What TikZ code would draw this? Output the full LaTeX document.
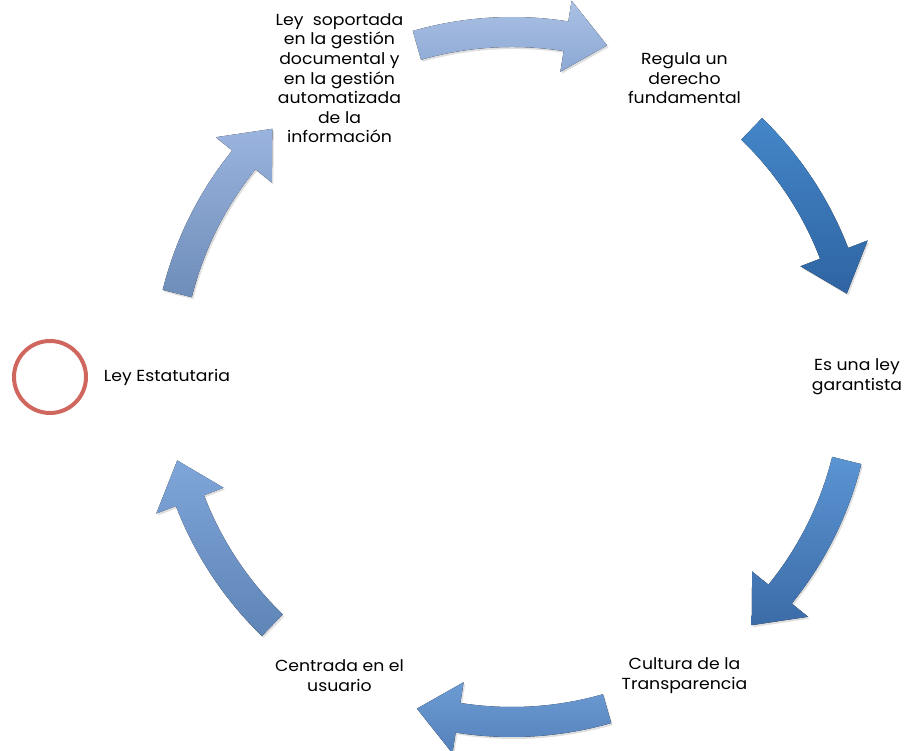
\documentclass[tikz,border=0pt]{standalone}
\usepackage{fontspec}
\setmainfont[FakeStretch=1.08]{Poppins}
\usetikzlibrary{shadows}

\definecolor{arrowTopA}{HTML}{ABC1E4}\definecolor{arrowBotA}{HTML}{8CA8D4}
\definecolor{arrowTopB}{HTML}{4486C8}\definecolor{arrowBotB}{HTML}{2F64A2}
\definecolor{arrowTopC}{HTML}{5B94D2}\definecolor{arrowBotC}{HTML}{3B6CA8}
\definecolor{arrowTopD}{HTML}{6C9BD3}\definecolor{arrowBotD}{HTML}{5581BB}
\definecolor{arrowTopE}{HTML}{7FA6D9}\definecolor{arrowBotE}{HTML}{5F84B6}
\definecolor{arrowTopF}{HTML}{9AB4DE}\definecolor{arrowBotF}{HTML}{6E8DB9}
\definecolor{circleRed}{HTML}{D0675F}

\begin{document}
\begin{tikzpicture}
[x=1pt,y=1pt,
  textDecorate/.style={align=center,inner sep=0pt,font=\fontsize{16}{19.6}\selectfont},%
  arrowDecorate/.style={drop shadow={shadow xshift=1.5pt,shadow yshift=-2pt,opacity=0.25}},%
  circleDecorate/.style={shape=circle,draw=circleRed,line width=4pt,minimum size=72pt}]
\useasboundingbox (0,0) rectangle (914,751);
%% nodes or vertices
\begin{scope}[shift={(512,374)}]
\foreach \nodename/\angle/\txt in {
  garantista/0/{Es una ley\\garantista},
  regula/60/{Regula un\\derecho\\fundamental},
  leySoportada/120/{Ley\ \ soportada\\en la gestión\\documental y\\en la gestión\\automatizada\\de la\\información},
  leyEstatutaria/180/{Ley Estatutaria},
  usuario/240/{Centrada en el\\usuario},
  transparencia/300/{Cultura de la\\Transparencia}}
{
  \node (\nodename) at (\angle:345) [textDecorate] {\txt};
}
%% arrows
\foreach \a/\tc/\bc in {
  90/arrowTopA/arrowBotA, 30/arrowTopB/arrowBotB, -30/arrowTopC/arrowBotC,
  -90/arrowTopD/arrowBotD, -150/arrowTopE/arrowBotE, 150/arrowTopF/arrowBotF}
{
  \fill[arrowDecorate,top color=\tc,bottom color=\bc]
    (\a+16:330) arc[start angle=\a+16,end angle=\a-9,radius=330]
    -- (\a-9:309) -- (\a-16:345) -- (\a-9:381) -- (\a-9:360)
    arc[start angle=\a-9,end angle=\a+16,radius=360] -- cycle;
}
\end{scope}
\node (redCircle) at (50,374) [circleDecorate] {};
\end{tikzpicture}
\end{document}
